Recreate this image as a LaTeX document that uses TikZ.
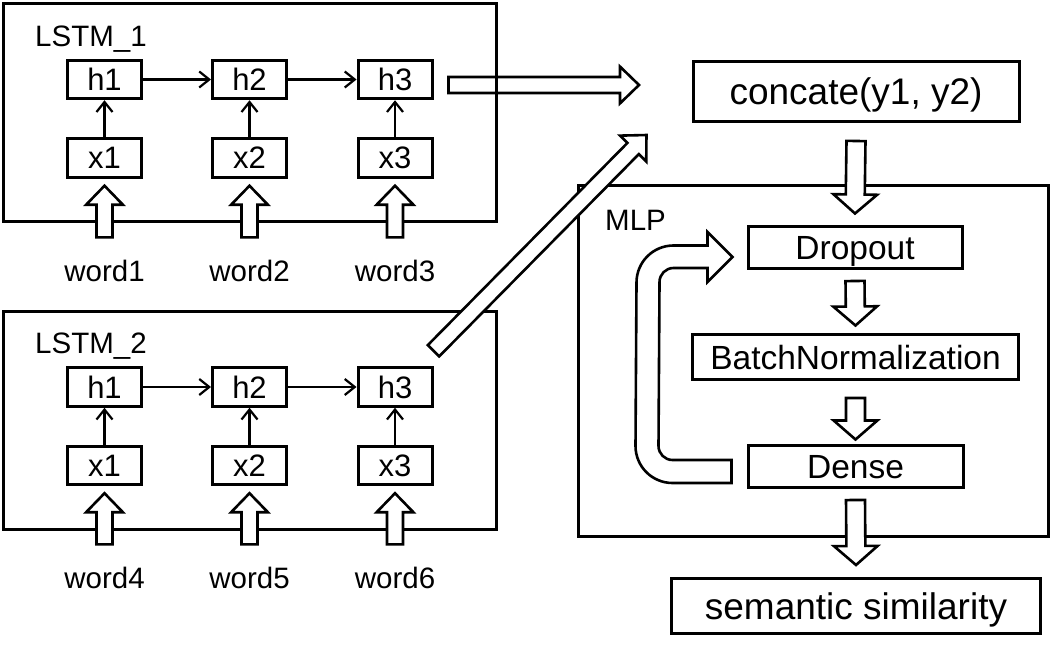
\documentclass[tikz,border=0pt]{standalone}
\usepackage{fontspec}
\setmainfont{Liberation Sans}
\usetikzlibrary{arrows.meta,calc}

% wide outlined arrow from #2 to #3, #1 = half width of the shaft
\newcommand{\hollowarrow}[3][8]{%
  \draw[hollow] let \p1=#2, \p2=#3,
    \n1={atan2(\y2-\y1,\x2-\x1)}, \n2={veclen(\x2-\x1,\y2-\y1)} in
    [shift={(\p1)}, rotate=\n1]
    (0,-#1) -- (\n2-19,-#1) -- (\n2-19,-2.3*#1) -- (\n2,0)
    -- (\n2-19,2.3*#1) -- (\n2-19,#1) -- (0,#1) -- cycle;}

\begin{document}
\begin{tikzpicture}[x=1pt, y=-1pt,
    cell/.style={draw, line width=3pt, minimum width=74pt, minimum height=38.5pt, inner sep=0pt, text depth=0pt, font=\fontsize{31}{37}\selectfont},
    stage/.style={draw, line width=3pt, inner sep=0pt, text depth=0pt, font=\fontsize{33.5}{40}\selectfont},
    word/.style={anchor=base, inner sep=0pt, font=\fontsize{29.5}{35}\selectfont},
    lbl/.style={anchor=base west, inner sep=0pt, font=\fontsize{29.5}{35}\selectfont},
    outline/.style={line width=3pt},
    link/.style={line width=2.2pt, -{Straight Barb[length=10pt,width=16pt]}},
    hollow/.style={draw, fill=white, line width=2.6pt, line join=miter}
]
\useasboundingbox (0,0) rectangle (1051,652);

% ---- LSTM_1 ----
\node[lbl] (lstma) at (35,47) {LSTM\_1};
\node[cell] (ha1) at (104.5,79.5) {h1};
\node[cell] (ha2) at (249.5,79.5) {h2};
\node[cell] (ha3) at (395,79.5) {h3};
\node[cell] (xa1) at (104.5,158) {x1};
\node[cell] (xa2) at (249.5,158) {x2};
\node[cell] (xa3) at (395,158) {x3};
\node[word] (wa1) at (104.5,281) {word1};
\node[word] (wa2) at (249.5,281) {word2};
\node[word] (wa3) at (395,281) {word3};

% ---- LSTM_2 ----
\node[lbl] (lstmb) at (35,353.5) {LSTM\_2};
\node[cell] (hb1) at (104.5,387) {h1};
\node[cell] (hb2) at (249.5,387) {h2};
\node[cell] (hb3) at (395,387) {h3};
\node[cell] (xb1) at (104.5,465.5) {x1};
\node[cell] (xb2) at (249.5,465.5) {x2};
\node[cell] (xb3) at (395,465.5) {x3};
\node[word] (wb1) at (104.5,588) {word4};
\node[word] (wb2) at (249.5,588) {word5};
\node[word] (wb3) at (395,588) {word6};

% ---- MLP ----
\node[stage, minimum width=326pt, minimum height=60pt, font=\fontsize{37}{44}\selectfont] (cat) at (856,91.5) {concate(y1, y2)};
\node[lbl] (mlp) at (605,231) {MLP};
\node[stage, minimum width=214pt, minimum height=42pt] (drop) at (855,247.5) {Dropout};
\node[stage, minimum width=326pt, minimum height=45pt] (bn) at (855.5,357) {BatchNormalization};
\node[stage, minimum width=215pt, minimum height=42pt] (dense) at (855.5,466.5) {Dense};
\node[stage, minimum width=369pt, minimum height=55pt, font=\fontsize{37}{44}\selectfont] (sim) at (856,606) {semantic similarity};

\coordinate (cin1) at ([shift={(-52.5pt,6.5pt)}]cat.west);
\coordinate (cin2) at ([shift={(-45pt,-43.5pt)}]cat.west);
\coordinate (loopS) at ([shift={(-15pt,-5pt)}]dense.west);
\coordinate (loopE) at ([shift={(-14pt,-9.5pt)}]drop.west);

% ---- frames ----
\hollowarrow{([shift={(15pt,-5.5pt)}]ha3.east)}{(cin1)}
\draw[outline] (3.5,3.5) rectangle (496.5,221.5);
\draw[outline] (3.5,311) rectangle (496.5,529);
\draw[outline] (578.8,185.5) rectangle (1048.5,536.5);

% ---- edges ----
\draw[link] (ha1) -- (ha2);
\draw[link] (ha2) -- (ha3);
\draw[link] (xa1) -- (ha1);
\draw[link] (xa2) -- (ha2);
\draw[link] (xa3) -- (ha3);

\draw[link] (hb1) -- (hb2);
\draw[link] (hb2) -- (hb3);
\draw[link] (xb1) -- (hb1);
\draw[link] (xb2) -- (hb2);
\draw[link] (xb3) -- (hb3);

\hollowarrow{([yshift=22pt]wa1.north)}{([yshift=-7pt]xa1.south)}
\hollowarrow{([yshift=22pt]wa2.north)}{([yshift=-7pt]xa2.south)}
\hollowarrow{([yshift=22pt]wa3.north)}{([yshift=-7pt]xa3.south)}
\hollowarrow{([yshift=22pt]wb1.north)}{([yshift=-7pt]xb1.south)}
\hollowarrow{([yshift=22pt]wb2.north)}{([yshift=-7pt]xb2.south)}
\hollowarrow{([yshift=22pt]wb3.north)}{([yshift=-7pt]xb3.south)}

\hollowarrow{([yshift=15.5pt]hb3.north east)}{(cin2)}

\hollowarrow[9.5]{([yshift=-18pt]cat.south)}{([yshift=11.5pt]drop.north)}
\hollowarrow[9.5]{([yshift=-11pt]drop.south)}{([yshift=7.5pt]bn.north)}
\hollowarrow[9.5]{([yshift=-17pt]bn.south)}{([yshift=4.5pt]dense.north)}
\hollowarrow[9.5]{([yshift=-11pt]dense.south)}{([yshift=12pt]sim.north)}

% loop back from Dense to Dropout
\draw[hollow] ([yshift=11.5pt]loopS) -- ++(-59,0) arc[start angle=90, end angle=180, radius=14]
  -- ($(loopE)+(-73,25)$) arc[start angle=180, end angle=270, radius=14]
  -- ($(loopE)+(-25,11)$) -- ++(0,14) -- (loopE) -- ++(-25,-25) -- ++(0,13.5)
  -- ++(-34,0) arc[start angle=270, end angle=180, radius=37]
  -- ($(loopS)+(-96,-25.5)$) arc[start angle=180, end angle=90, radius=37]
  -- ($(loopS)+(0,11.5)$) -- cycle;

\end{tikzpicture}
\end{document}
